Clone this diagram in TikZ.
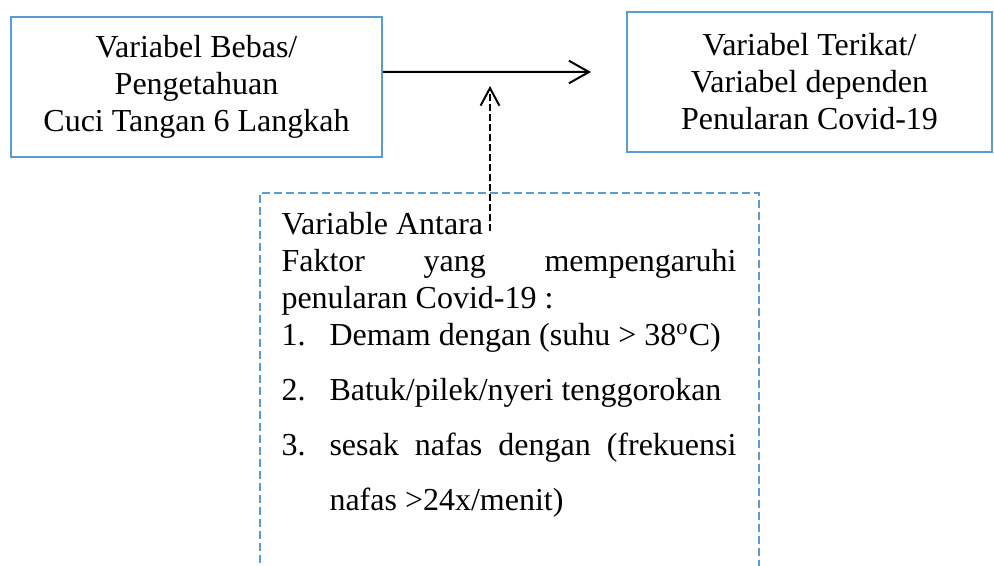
\documentclass[tikz,border=0pt]{standalone}
\usepackage{fontspec}
\setmainfont{Liberation Serif}
\usetikzlibrary{positioning,arrows.meta}
\definecolor{boxblue}{HTML}{5B9BD5}
\tikzset{
  varbox/.style={draw=boxblue, line width=0.8pt, minimum width=148.4pt, minimum height=56pt, align=center, font=\fontsize{12.8}{14.8}\selectfont},
  antarabox/.style={draw=boxblue, line width=0.8pt, dash pattern=on 3.2pt off 1.6pt, minimum width=199.6pt, minimum height=200pt, anchor=north west},
  antaratext/.style={text width=182pt, inner sep=0pt, anchor=north west, align=justify, font=\fontsize{12.8}{14.8}\selectfont},
  flowarrow/.style={-{Straight Barb[length=8pt, width=9pt]}, line width=0.8pt},
  dasharrow/.style={-{Straight Barb[length=7pt, width=7.5pt]}, line width=0.8pt, dash pattern=on 2.8pt off 1.2pt}
}
\newcommand{\butir}[2]{\hangindent=19.2pt\hangafter=1 \makebox[19.2pt][l]{#1}#2\par}

\begin{document}
\begin{tikzpicture}[x=0.4pt, y=-0.4pt]
  \clip (0,0) rectangle (994,566);
  % kotak variabel
  \node[varbox] (bebas) at (196.5,87) {Variabel Bebas/\\Pengetahuan\\Cuci Tangan 6 Langkah};
  \node[varbox, minimum width=146pt] (terikat) at (809.5,82) {Variabel Terikat/\\Variabel dependen\\Penularan Covid-19};
  % kotak variabel antara
  \node[antarabox] (antara) at (259,192) {};
  \node[antaratext] (isi) at (281,211.5) {%
    \hyphenpenalty=10000 \parindent=0pt
    Variable Antara\par
    Faktor yang mempengaruhi penularan Covid-19 :\par
    {\baselineskip=14.8pt \butir{1.}{Demam dengan (suhu > 38\textsuperscript{o}C)}}
    {\baselineskip=22pt \butir{2.}{Batuk/pilek/nyeri tenggorokan}}
    {\baselineskip=22pt \butir{3.}{sesak nafas dengan (frekuensi nafas >24x/menit)}}};
  \coordinate (ujung) at (591,72);
  \coordinate (pangkal) at (490,231);
  \coordinate (sela) at (490,86);
  \draw[flowarrow] ([yshift=6pt]bebas.east) -- (ujung);
  \draw[dasharrow] (pangkal) -- (sela);
\end{tikzpicture}
\end{document}
